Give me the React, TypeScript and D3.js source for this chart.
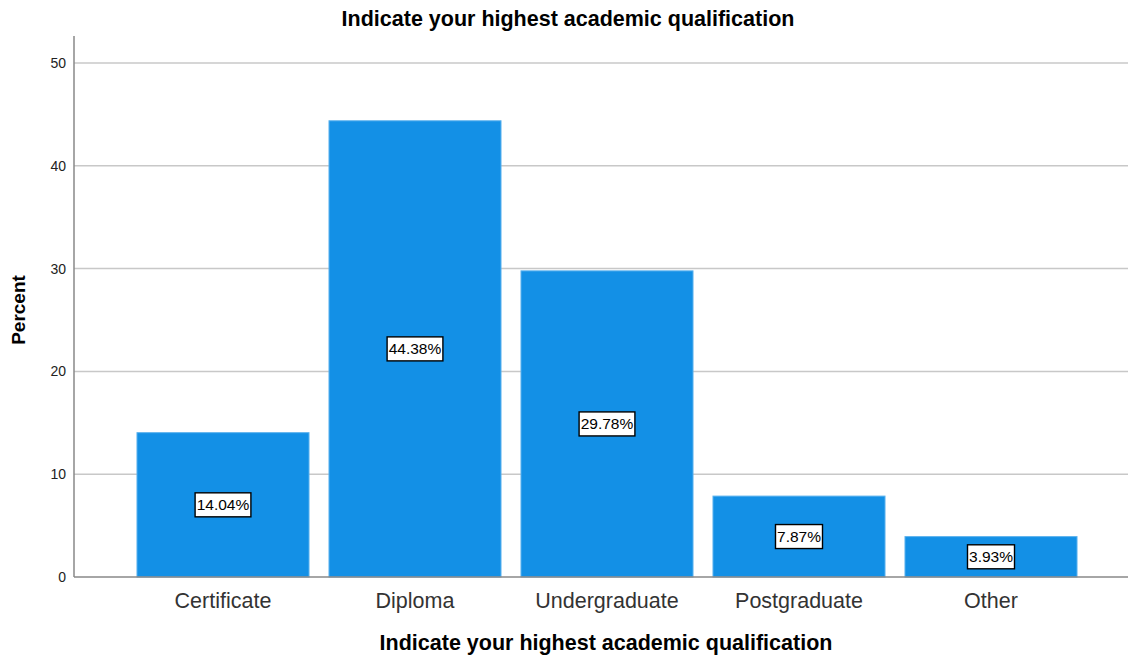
import React from "react";
import * as d3 from "d3";

const categories = ["Certificate", "Diploma", "Undergraduate", "Postgraduate", "Other"];
const percents = [14.04, 44.38, 29.78, 7.87, 3.93];
const yTicks = [0, 10, 20, 30, 40, 50];

const W = 1129;
const H = 657;
const plot = { left: 74, right: 1128, top: 36, bottom: 577 };
const font = "Arial, 'Liberation Sans', sans-serif";

export default function App() {
  const x = d3
    .scaleBand<string>()
    .domain(categories)
    .range([127, 1087])
    .paddingInner(0.104)
    .paddingOuter(0.052);
  const y = d3.scaleLinear().domain([0, 50]).range([plot.bottom, 63]);

  return (
    <svg
      width={W}
      height={H}
      style={{ position: "absolute", left: 0, top: 0, background: "#fff" }}
      fontFamily={font}
    >
      <text x={568} y={26} textAnchor="middle" fontSize={21.5} fontWeight="bold" fill="#000">
        Indicate your highest academic qualification
      </text>

      {yTicks.slice(1).map((t) => (
        <line key={t} x1={plot.left} x2={plot.right} y1={y(t)} y2={y(t)} stroke="#c8c8c8" strokeWidth={1.5} />
      ))}

      {categories.map((c, i) => {
        const v = percents[i];
        const bx = x(c)!;
        const bw = x.bandwidth();
        const cx = bx + bw / 2;
        const cy = y(v / 2);
        const label = `${v.toFixed(2)}%`;
        const boxW = label.length * 8.8 + 3;
        return (
          <g key={c}>
            <rect x={bx} y={y(v)} width={bw} height={y(0) - y(v)} fill="#1390e6" stroke="#5cb2ee" strokeWidth={1} />
            <rect x={cx - boxW / 2} y={cy - 12} width={boxW} height={24} fill="#fff" stroke="#000" strokeWidth={1.4} />
            <text x={cx} y={cy + 5.5} textAnchor="middle" fontSize={15.5} fill="#000">
              {label}
            </text>
            <text x={cx} y={608} textAnchor="middle" fontSize={21.5} fill="#333">
              {c}
            </text>
          </g>
        );
      })}

      <line x1={plot.left} x2={plot.left} y1={plot.top} y2={plot.bottom} stroke="#888" strokeWidth={1.5} />
      <line x1={plot.left} x2={plot.right} y1={plot.bottom} y2={plot.bottom} stroke="#888" strokeWidth={1.5} />

      {yTicks.map((t) => (
        <text key={t} x={66} y={y(t) + 5} textAnchor="end" fontSize={14} fill="#222">
          {t}
        </text>
      ))}

      <text
        transform={`translate(25, ${310}) rotate(-90)`}
        textAnchor="middle"
        fontSize={19}
        fontWeight="bold"
        fill="#000"
      >
        Percent
      </text>
      <text x={606} y={650} textAnchor="middle" fontSize={21.5} fontWeight="bold" fill="#000">
        Indicate your highest academic qualification
      </text>
    </svg>
  );
}
